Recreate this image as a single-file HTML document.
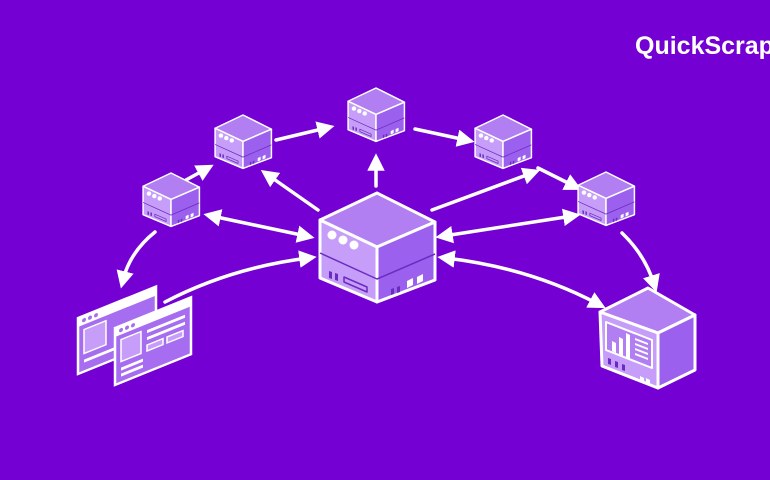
<!DOCTYPE html>
<html><head><meta charset="utf-8"><style>
html,body{margin:0;padding:0;background:#7400d4;}
svg{display:block}
</style></head><body>
<svg width="770" height="480" viewBox="0 0 770 480" xmlns="http://www.w3.org/2000/svg">
<defs>
<g id="cube" stroke="#fff" stroke-width="3" stroke-linejoin="round">
  <polygon points="0,0 58,29 0,54 -57,27" fill="#b27ff2"/>
  <polygon points="-57,27 0,54 0,109 -57,85" fill="#c69ef9"/>
  <polygon points="0,54 58,29 58,87 0,109" fill="#9c60ee"/>
  <g stroke="none" fill="#fff">
    <circle cx="-45" cy="42" r="4.5"/><circle cx="-34" cy="47" r="4.5"/><circle cx="-23" cy="52" r="4.5"/>
  </g>
  <polyline points="-57,60 0,86 58,61" fill="none" stroke-width="1.5" stroke="#6a2cc0"/>
  <g stroke="none" fill="#6a2cc0">
    <polygon points="-48,78 -45,79 -45,86 -48,85"/><polygon points="-42,80 -39,81 -39,88 -42,87"/>
    <polygon points="-33,84 -10,94 -10,99 -33,89" fill="none" stroke="#6a2cc0" stroke-width="1.5"/>
    <polygon points="14,96 17,95 17,101 14,102"/><polygon points="20,94 23,93 23,99 20,100"/>
  </g>
  <g stroke="none" fill="#fff"><polygon points="30,88 36,85 36,92 30,95"/><polygon points="40,84 46,81 46,88 40,91"/></g>
</g>
<marker id="ah" viewBox="0 0 10 10" refX="5" refY="5" markerWidth="5" markerHeight="5" orient="auto-start-reverse">
  <path d="M0,0 L10,5 L0,10 z" fill="#fff"/>
</marker>
</defs>

<g stroke="#fff" stroke-width="3.5" fill="none" stroke-linecap="round">
  <line x1="318" y1="210" x2="268" y2="175" marker-end="url(#ah)"/>
  <line x1="376" y1="186" x2="376" y2="162" marker-end="url(#ah)"/>
  <line x1="432" y1="210" x2="532" y2="173" marker-end="url(#ah)"/>
  <line x1="212" y1="216" x2="306" y2="236" marker-start="url(#ah)" marker-end="url(#ah)"/>
  <line x1="444" y1="236" x2="572" y2="216" marker-start="url(#ah)" marker-end="url(#ah)"/>
  <line x1="186" y1="180" x2="206" y2="169" marker-end="url(#ah)"/>
  <line x1="276" y1="140" x2="326" y2="128" marker-end="url(#ah)"/>
  <line x1="415" y1="129" x2="466" y2="140" marker-end="url(#ah)"/>
  <line x1="538" y1="168" x2="574" y2="186" marker-end="url(#ah)"/>
  <path d="M155,232 Q130,252 123,280" marker-end="url(#ah)"/>
  <path d="M622,233 Q645,255 654,284" marker-end="url(#ah)"/>
  <path d="M165,302 Q230,268 308,258" marker-end="url(#ah)"/>
  <path d="M446,258 Q530,268 598,304" marker-start="url(#ah)" marker-end="url(#ah)"/>
</g>

<use href="#cube" transform="translate(377,193)"/>
<use href="#cube" transform="translate(376,88) scale(0.49)"/>
<use href="#cube" transform="translate(243,115) scale(0.49)"/>
<use href="#cube" transform="translate(503,115) scale(0.49)"/>
<use href="#cube" transform="translate(171,173) scale(0.49)"/>
<use href="#cube" transform="translate(606,172) scale(0.49)"/>

<g transform="translate(78,318) skewY(-22)">
  <rect x="0" y="0" width="78" height="56" fill="#a66df0" stroke="#fff" stroke-width="2.5"/>
  <rect x="0" y="0" width="78" height="9" fill="#fff"/>
  <circle cx="6" cy="4.5" r="2" fill="#a66df0"/><circle cx="12" cy="4.5" r="2" fill="#a66df0"/><circle cx="18" cy="4.5" r="2" fill="#a66df0"/>
  <rect x="6" y="14" width="22" height="24" fill="#c69ef9" stroke="#fff" stroke-width="1.5"/>
  <rect x="6" y="44" width="50" height="3" fill="#fff"/>
</g>
<g transform="translate(115,328) skewY(-22)">
  <rect x="0" y="0" width="76" height="57" fill="#a66df0" stroke="#fff" stroke-width="2.5"/>
  <rect x="0" y="0" width="76" height="9" fill="#fff"/>
  <circle cx="6" cy="4.5" r="2" fill="#a66df0"/><circle cx="12" cy="4.5" r="2" fill="#a66df0"/><circle cx="18" cy="4.5" r="2" fill="#a66df0"/>
  <rect x="6" y="14" width="20" height="22" fill="#c69ef9" stroke="#fff" stroke-width="1.5"/>
  <rect x="32" y="15" width="38" height="3" fill="#fff"/>
  <rect x="32" y="22" width="38" height="3" fill="#fff"/>
  <rect x="32" y="30" width="16" height="6" fill="#c69ef9" stroke="#fff" stroke-width="1.5"/>
  <rect x="52" y="30" width="16" height="6" fill="#c69ef9" stroke="#fff" stroke-width="1.5"/>
  <rect x="6" y="42" width="22" height="3" fill="#fff"/>
  <rect x="6" y="48" width="22" height="3" fill="#fff"/>
</g>

<g stroke="#fff" stroke-width="3" stroke-linejoin="round">
  <polygon points="600,312 648,288 695,315 658,333" fill="#b27ff2"/>
  <polygon points="600,312 658,333 658,388 602,366" fill="#c69ef9"/>
  <polygon points="658,333 695,315 695,370 658,388" fill="#9c60ee"/>
  <polygon points="606,322 652,340 652,368 606,350" fill="#b27ff2" stroke-width="2"/>
</g>
<g fill="#fff">
  <polygon points="612,341 616,343 616,353 612,351"/>
  <polygon points="619,337 623,339 623,356 619,354"/>
  <polygon points="626,333 630,335 630,359 626,357"/>
  <polygon points="635,338 648,343 648,345 635,340"/>
  <polygon points="635,343 648,348 648,350 635,345"/>
  <polygon points="635,348 648,353 648,355 635,350"/>
  <polygon points="635,353 648,358 648,360 635,355"/>
  <polygon points="640,376 644,378 644,384 640,382"/>
  <polygon points="646,378 650,380 650,386 646,384"/>
</g>
<g fill="#6a2cc0">
  <polygon points="608,358 611,359 611,365 608,364"/>
  <polygon points="615,361 618,362 618,368 615,367"/>
  <polygon points="622,364 625,365 625,371 622,370"/>
</g>

<text x="635" y="54" font-family="Liberation Sans, sans-serif" font-weight="bold" font-size="25" fill="#fff">QuickScrap</text>
</svg>
</body></html>
